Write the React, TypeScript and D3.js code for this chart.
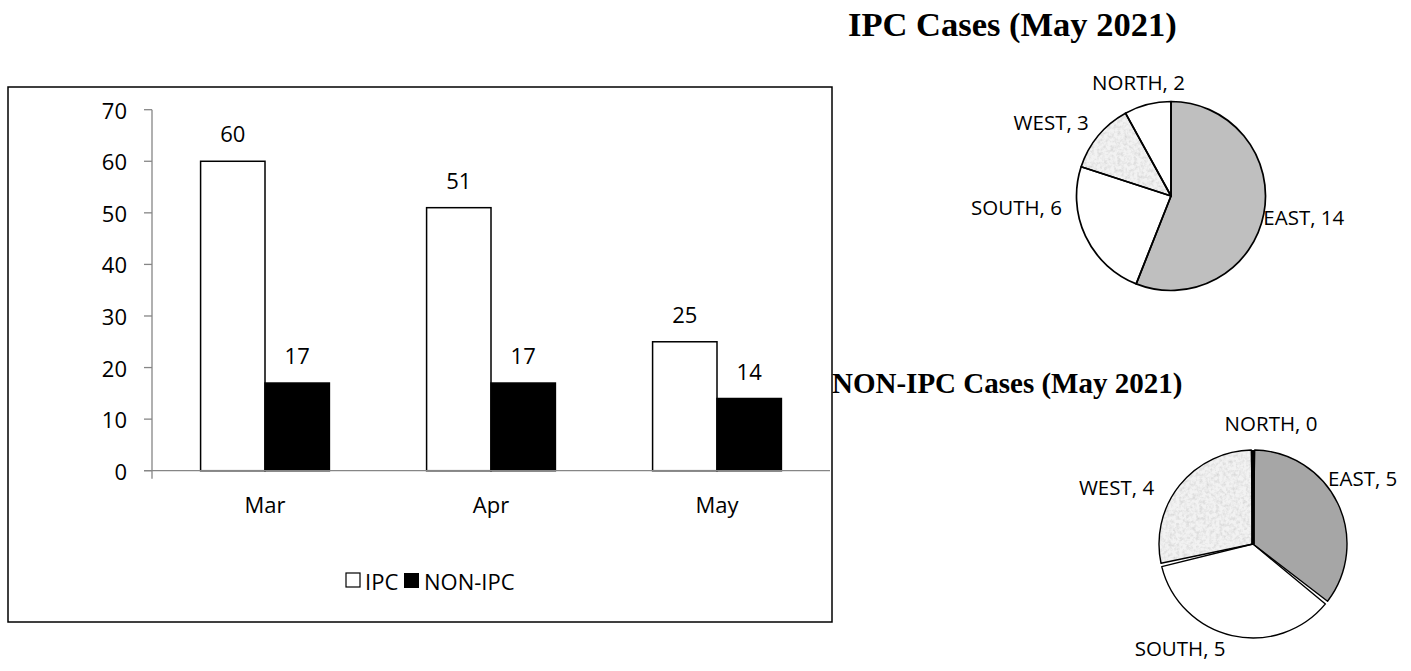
import React from "react";
import * as d3 from "d3";

const months = ["Mar", "Apr", "May"];
const seriesNames = ["IPC", "NON-IPC"];
const ipcValues = [60, 51, 25];
const nonIpcValues = [17, 17, 14];
const yTicks = [0, 10, 20, 30, 40, 50, 60, 70];

const regions = ["EAST", "SOUTH", "WEST", "NORTH"];
const ipcMay = [14, 6, 3, 2];
const nonIpcMay = [5, 5, 4, 0];

const FONT = "'Open Sans', sans-serif";
const SERIF = "'Liberation Serif', 'Times New Roman', serif";
const W = 1411, H = 671;

const frame = { x: 8, y: 87, w: 824, h: 535 };
const plot = { left: 152, right: 830, top: 109.7, bottom: 470.7 };

const pie1Fills = ["#bfbfbf", "#ffffff", "url(#tex)", "#ffffff"];
const pie2Fills = ["#a6a6a6", "#ffffff", "url(#tex)", "#ffffff"];
const pie1Nudge: [number, number][] = [[40, 3], [-69, -29], [-47, -14], [-9, -22]];
const pie2Nudge: [number, number][] = [[25, -25], [-52, 12], [-63, 2], [18, -27]];

function Pie({ cx, cy, r, values, fills, nudge, gap, sw }: any) {
  const data = regions.map((name, i) => ({ name, value: values[i], fill: fills[i] }));
  const arcs = d3.pie<any>().sort(null).value((d: any) => d.value)(data);
  const arc = d3.arc<any>().innerRadius(0).outerRadius(r).padAngle(gap / r).padRadius(r);
  const live = arcs.filter((a) => a.data.value > 0);
  return (
    <g transform={`translate(${cx},${cy})`}>
      {live.map((a, i) => (
        <path key={"f" + i} d={arc(a) || ""} fill={a.data.fill} stroke="none" />
      ))}
      {live.map((a, i) => (
        <path key={"s" + i} d={arc(a) || ""} fill="none" stroke="#000" strokeWidth={sw} strokeLinejoin="round" />
      ))}
      {arcs.filter((a) => a.data.value === 0).map((a, i) => (
        <line key={"z" + i} x1={0} y1={0} x2={r * Math.sin(a.startAngle)} y2={-r * Math.cos(a.startAngle)} stroke="#000" strokeWidth={3.8} />
      ))}
      {arcs.map((a, i) => {
        const mid = (a.startAngle + a.endAngle) / 2;
        const x = r * Math.sin(mid) + nudge[i][0];
        const y = -r * Math.cos(mid) + nudge[i][1];
        return (
          <text key={"l" + i} x={x} y={y} textAnchor="middle" dominantBaseline="central" fontFamily={FONT} fontSize={20.5} fill="#000">
            {`${a.data.name}, ${a.data.value}`}
          </text>
        );
      })}
    </g>
  );
}

export default function App() {
  const y = d3.scaleLinear().domain([0, 70]).range([plot.bottom, plot.top]);
  const x0 = d3.scaleBand<string>().domain(months).range([plot.left, plot.right]).paddingInner(0.43).paddingOuter(0.215);
  const x1 = d3.scaleBand<string>().domain(seriesNames).range([0, x0.bandwidth()]);
  const seriesValues = [ipcValues, nonIpcValues];
  const seriesFill = ["#ffffff", "#000000"];
  const axisColor = "#868686";

  return (
    <svg width={W} height={H} style={{ position: "absolute", left: 0, top: 0 }}>
      <defs>
        <filter id="grain" x="0" y="0" width="100%" height="100%">
          <feTurbulence type="fractalNoise" baseFrequency="0.3" numOctaves="3" seed="4" result="n" />
          <feColorMatrix in="n" type="matrix" values="0 0 0 0 0.6  0 0 0 0 0.6  0 0 0 0 0.6  -1.4 0 0 0 0.85" />
        </filter>
        <pattern id="tex" patternUnits="userSpaceOnUse" width="300" height="300">
          <rect width="300" height="300" fill="#f2f2f2" />
          <rect width="300" height="300" fill="#fff" filter="url(#grain)" />
        </pattern>
      </defs>
      <rect x={0} y={0} width={W} height={H} fill="#fff" />

      <rect x={frame.x} y={frame.y} width={frame.w} height={frame.h} fill="#fff" stroke="#000" strokeWidth={1.5} />

      <line x1={plot.left} x2={plot.left} y1={y(70)} y2={plot.bottom + 8} stroke={axisColor} strokeWidth={1.3} />
      {yTicks.map((t) => (
        <g key={t}>
          <line x1={plot.left - 8} x2={plot.left} y1={y(t)} y2={y(t)} stroke={axisColor} strokeWidth={1.3} />
          <text x={127} y={y(t)} textAnchor="end" dominantBaseline="central" fontFamily={FONT} fontSize={22} fill="#000">{t}</text>
        </g>
      ))}

      {months.map((m, mi) => (
        <g key={m}>
          {seriesNames.map((s, si) => {
            const v = seriesValues[si][mi];
            const bx = (x0(m) || 0) + (x1(s) || 0);
            const bw = x1.bandwidth();
            return (
              <g key={s}>
                <rect x={bx} y={y(v)} width={bw} height={y(0) - y(v)} fill={seriesFill[si]} stroke="#000" strokeWidth={1.5} />
                <text x={bx + bw / 2} y={y(v) - 19} textAnchor="middle" fontFamily={FONT} fontSize={22} fill="#000">{v}</text>
              </g>
            );
          })}
          <text x={(x0(m) || 0) + x0.bandwidth() / 2} y={513} textAnchor="middle" fontFamily={FONT} fontSize={22} fill="#000">{m}</text>
        </g>
      ))}

      <line x1={plot.left - 8} x2={plot.right} y1={plot.bottom} y2={plot.bottom} stroke={axisColor} strokeWidth={1.3} />

      <g fontFamily={FONT} fontSize={22}>
        <rect x={346} y={573} width={14} height={14} fill="#fff" stroke="#000" strokeWidth={1.2} />
        <text x={365} y={581} dominantBaseline="central">{seriesNames[0]}</text>
        <rect x={404} y={573} width={15} height={15} fill="#000" />
        <text x={424} y={581} dominantBaseline="central">{seriesNames[1]}</text>
      </g>

      <text x={848} y={36} fontFamily={SERIF} fontWeight="bold" fontSize={34.5} fill="#000">IPC Cases (May 2021)</text>
      <text x={832} y={393} fontFamily={SERIF} fontWeight="bold" fontSize={29} fill="#000">NON-IPC Cases (May 2021)</text>

      <Pie cx={1171} cy={196} r={94.5} values={ipcMay} fills={pie1Fills} nudge={pie1Nudge} gap={0} sw={1.7} />
      <Pie cx={1253} cy={544} r={94} values={nonIpcMay} fills={pie2Fills} nudge={pie2Nudge} gap={3.4} sw={1.4} />
    </svg>
  );
}
